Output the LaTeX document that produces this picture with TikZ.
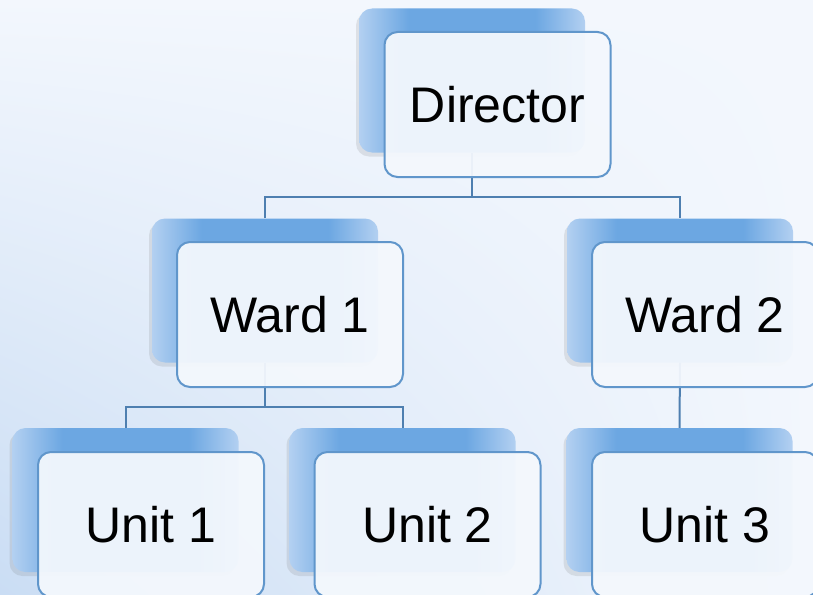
\documentclass[tikz,border=0pt]{standalone}
\usepackage{fontspec}
\setmainfont{Liberation Sans}
\usetikzlibrary{shadows,shadings}
\definecolor{bgL}{HTML}{F3F7FD}
\definecolor{bgB}{HTML}{CADDF4}
\definecolor{backMid}{HTML}{6CA7E2}
\definecolor{backEdge}{HTML}{B3D0F1}
\definecolor{frontFill}{HTML}{F4F8FD}
\definecolor{frontLine}{HTML}{6096CB}
\definecolor{linkCol}{HTML}{4E7FB0}
\pgfdeclarehorizontalshading{backsh}{100bp}{color(0bp)=(backEdge); color(25bp)=(backEdge); color(36bp)=(backMid); color(64bp)=(backMid); color(75bp)=(backEdge); color(100bp)=(backEdge)}
\tikzset{
  backbox/.style={rectangle, rounded corners=13pt, minimum width=226pt, minimum height=144pt,
    inner sep=0pt, shading=backsh,
    drop shadow={shadow xshift=-3pt, shadow yshift=-4pt, opacity=0.15, fill=black!60}},
  frontbox/.style={rectangle, rounded corners=13pt, minimum width=226pt, minimum height=145pt,
    inner sep=0pt, draw=frontLine, line width=2pt, fill=frontFill, fill opacity=0.94,
    text opacity=1, font=\fontsize{50}{60}\selectfont},
  link/.style={draw=linkCol, line width=2pt}
}
\begin{document}
\begin{tikzpicture}[x=1pt,y=-1pt]
\useasboundingbox (0,0) rectangle (813,594);
\shade[upper left=bgL, upper right=bgL, lower right=bgL, lower left=bgB] (0,0) rectangle (813,594);
% back boxes
\node[backbox] (dirB) at (472,80.5) {};
\node[backbox] (w1B) at (265,290.5) {};
\node[backbox] (w2B) at (680,290.5) {};
\node[backbox] (u1B) at (125.5,500) {};
\node[backbox] (u2B) at (402.5,500) {};
\node[backbox] (u3B) at (679.5,500) {};
% connectors
\coordinate (j1) at (472,197);
\coordinate (j2) at (265,407);
\draw[link] (dirB.south) -- (j1);
\draw[link] (w1B.north) |- (j1) -| (w2B.north);
\draw[link] (w1B.south) -- (j2);
\draw[link] (u1B.north) |- (j2) -| (u2B.north);
\draw[link] (w2B.south) -- (u3B.north);
% front boxes
\node[frontbox] (dir) at (497.5,104.5) {Director};
\node[frontbox] (w1) at (290,314.5) {Ward 1};
\node[frontbox] (w2) at (705,314.5) {Ward 2};
\node[frontbox] (u1) at (151,524.5) {Unit 1};
\node[frontbox] (u2) at (427.5,524.5) {Unit 2};
\node[frontbox] (u3) at (705,524.5) {Unit 3};
\end{tikzpicture}
\end{document}
